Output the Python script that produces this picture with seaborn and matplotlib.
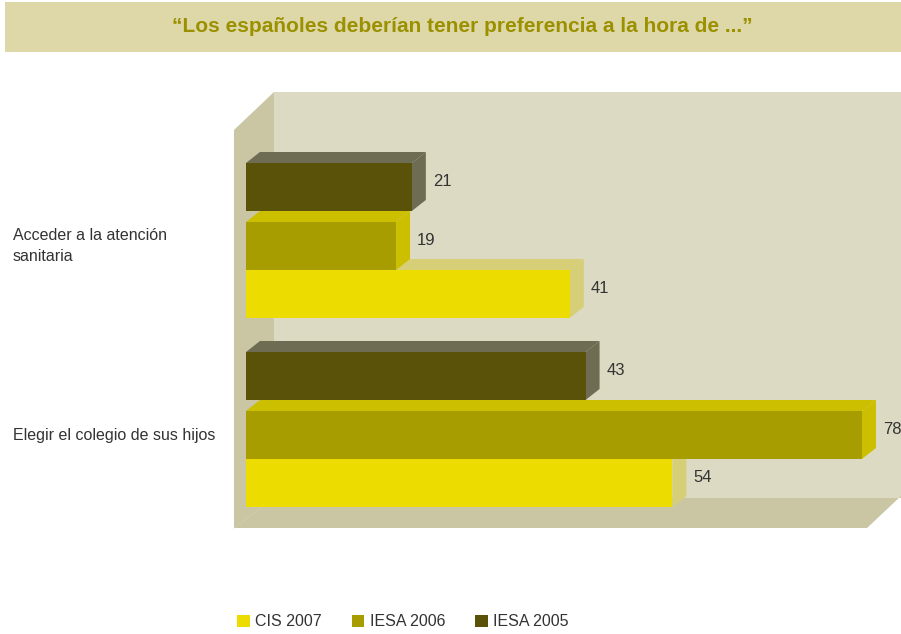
import numpy as np
import pandas as pd
import matplotlib
matplotlib.use("Agg")
import matplotlib.pyplot as plt
import matplotlib.colors as mcolors
import matplotlib.transforms as mtransforms
from matplotlib.patches import Polygon, Rectangle, Patch
import seaborn as sns

# ---------------- data ----------------
categories = ["Acceder a la atención\nsanitaria", "Elegir el colegio de sus hijos"]
series_names = ["CIS 2007", "IESA 2006", "IESA 2005"]
cis_2007 = [41, 54]
iesa_2006 = [19, 78]
iesa_2005 = [21, 43]
title = "“Los españoles deberían tener preferencia a la hora de ...”"

front_colors = {"CIS 2007": "#ECDC00", "IESA 2006": "#A89D00", "IESA 2005": "#5A5208"}
face_colors = {"CIS 2007": "#D7CF78", "IESA 2006": "#CCBF00", "IESA 2005": "#6E6C52"}

df = pd.DataFrame({
    "category": categories * 3,
    "series": ["CIS 2007"] * 2 + ["IESA 2006"] * 2 + ["IESA 2005"] * 2,
    "value": cis_2007 + iesa_2006 + iesa_2005,
})

# ---------------- style ----------------
sns.set_theme(style="white")
plt.rcParams["font.family"] = ["Liberation Sans", "DejaVu Sans"]

W, H = 901, 634
fig = plt.figure(figsize=(W / 100, H / 100), dpi=100)
fig.patch.set_facecolor("white")

def fx(px):
    return px / W

def fy(py):
    return 1 - py / H

# axes spans the 3D box region
AX_L, AX_R, AX_T, AX_B = 234, 901, 92, 528
ax = fig.add_axes([fx(AX_L), fy(AX_B), (AX_R - AX_L) / W, (AX_B - AX_T) / H])
ax.set_facecolor("none")
ax.set_zorder(2)

KX = 7.897   # px per value unit
KY = 189.0   # px per category step
X0_PX = 246  # px of value 0
Y0_PX = 246  # px of first category centre

# ---------------- 3D box (walls & floor) ----------------
wall_back = "#DDDAC3"
wall_side = "#CAC6A4"
fig.patches.append(Polygon([(fx(274), fy(92)), (fx(901), fy(92)), (fx(901), fy(498)), (fx(274), fy(498))],
                           closed=True, transform=fig.transFigure, facecolor=wall_back, edgecolor="none", zorder=-1))
fig.patches.append(Polygon([(fx(234), fy(130)), (fx(274), fy(92)), (fx(274), fy(498)), (fx(234), fy(528))],
                           closed=True, transform=fig.transFigure, facecolor=wall_side, edgecolor="none", zorder=-1))
fig.patches.append(Polygon([(fx(234), fy(528)), (fx(274), fy(498)), (fx(901), fy(498)), (fx(901), fy(496)), (fx(867), fy(528))],
                           closed=True, transform=fig.transFigure, facecolor=wall_side, edgecolor="none", zorder=-1))
fig.lines.append(plt.Line2D([fx(234), fx(274)], [fy(528), fy(498)], transform=fig.transFigure,
                            color="#E4E1CC", linewidth=0.8, zorder=-1))

# ---------------- bars ----------------
bar_h_units = 48 / KY
sns.barplot(data=df, x="value", y="category", hue="series",
            hue_order=["IESA 2005", "IESA 2006", "CIS 2007"],
            palette=front_colors, saturation=1, width=3 * bar_h_units,
            dodge=True, errorbar=None, legend=False, ax=ax,
            linewidth=0, edgecolor="none", zorder=5)

ax.set_xlim((AX_L - X0_PX) / KX, (AX_R - X0_PX) / KX)
ax.set_ylim((AX_B - Y0_PX) / KY, (AX_T - Y0_PX) / KY)
for s in ax.spines.values():
    s.set_visible(False)
ax.set_xticks([])
ax.set_yticks([])
ax.set_xlabel("")
ax.set_ylabel("")

DX = 14 / KX
DY = 11 / KY
GAP = 11 / KY

hex2series = {mcolors.to_hex(c).lower(): s for s, c in front_colors.items()}
back_z = {"CIS 2007": 2, "IESA 2006": 3, "IESA 2005": 4}

for p in list(ax.patches):
    if not isinstance(p, Rectangle):
        continue
    sname = hex2series.get(mcolors.to_hex(p.get_facecolor()).lower())
    if sname is None:
        continue
    if sname == "IESA 2005":
        p.set_y(p.get_y() - GAP)
    x0 = p.get_x()
    w = p.get_width()
    y0 = p.get_y()
    h = p.get_height()
    x1 = x0 + w
    fc = face_colors[sname]
    top = Polygon([(x0, y0), (x1, y0), (x1 + DX, y0 - DY), (x0 + DX, y0 - DY)], closed=True,
                  facecolor=fc, edgecolor="none", zorder=back_z[sname])
    side = Polygon([(x1, y0), (x1, y0 + h), (x1 + DX, y0 + h - DY), (x1 + DX, y0 - DY)], closed=True,
                   facecolor=fc, edgecolor="none", zorder=back_z[sname])
    ax.add_patch(top)
    ax.add_patch(side)
    ax.text(x1 + DX + 7 / KX, y0 + h / 2 - DY / 2, f"{w:.0f}", ha="left", va="center",
            fontsize=12, color="#333333", clip_on=False, zorder=6)

# category labels, left aligned
blend = mtransforms.blended_transform_factory(fig.transFigure, ax.transData)
for i, cat in enumerate(categories):
    fig.text(fx(13), i, cat, transform=blend, ha="left", va="center",
             fontsize=11.5, color="#333333", linespacing=1.5)

# ---------------- title banner ----------------
fig.patches.append(Rectangle((fx(5), fy(52)), fx(901) - fx(5), fy(2) - fy(52),
                             transform=fig.transFigure, facecolor="#DED8A8", edgecolor="none", zorder=-1))
fig.text(fx(462), fy(27), title, ha="center", va="center", fontsize=15, fontweight="bold",
         color="#9B9100")

# ---------------- legend ----------------
handles = [Patch(facecolor=front_colors[s], edgecolor="none", label=s) for s in series_names]
fig.legend(handles=handles, loc="center left", bbox_to_anchor=(fx(237), fy(622)),
           ncol=3, frameon=False, fontsize=11.5, handlelength=0.8, handleheight=0.8,
           handletextpad=0.35, columnspacing=1.85, borderpad=0, borderaxespad=0,
           labelcolor="#333333")

fig.savefig("out.png", dpi=100)
